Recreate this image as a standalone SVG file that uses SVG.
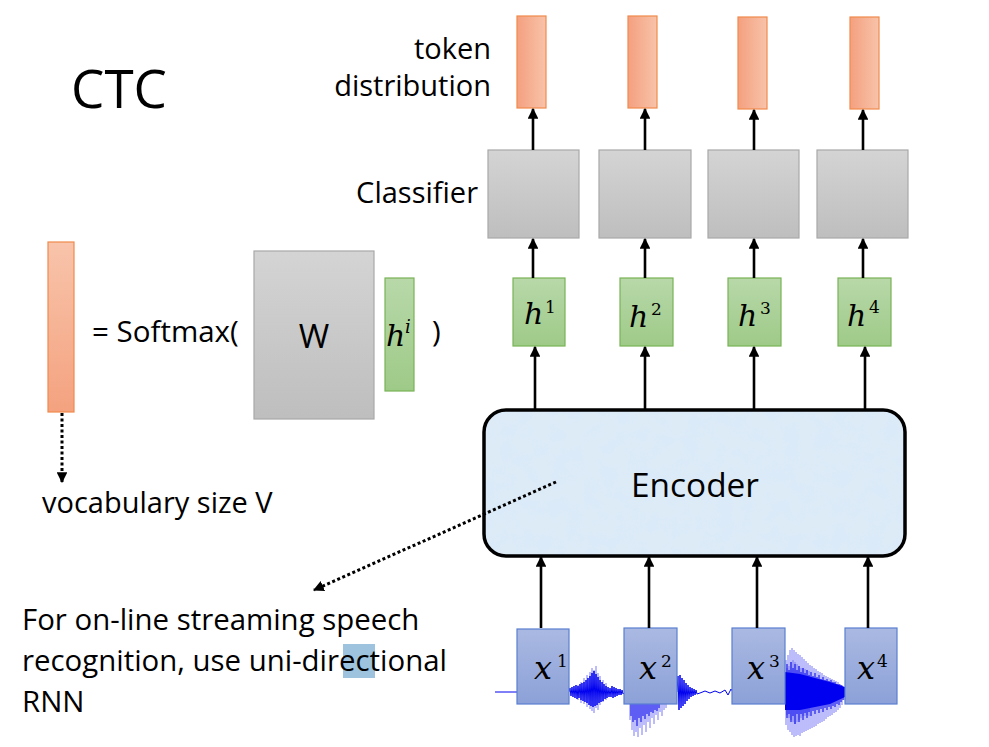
<svg xmlns="http://www.w3.org/2000/svg" width="989" height="747" viewBox="0 0 989 747">
<style>
.t{font-family:"Open Sans","Liberation Sans",sans-serif;fill:#000}
.m{font-family:"DejaVu Serif","Liberation Serif",serif;font-style:italic;fill:#000}
.d{font-family:"DejaVu Serif","Liberation Serif",serif;fill:#000}
.or{stroke:#F08A4B;stroke-width:1.2}
.gr{fill:url(#gray);stroke:#A8A8A8;stroke-width:1.2}
.gn{fill:url(#green);stroke:#78B356;stroke-width:1.2}
.bl{fill:url(#blue);stroke:#5A7FD1;stroke-width:1.2}
.ar{stroke:#000;stroke-width:2.6;fill:none;marker-end:url(#ah)}
.dt{stroke:#000;stroke-width:3;stroke-dasharray:3 2.5;fill:none;marker-end:url(#ahs)}
.wl{stroke:#7B7BF6;stroke-width:1;fill:none}
.wd{stroke:#0000F0;stroke-width:1;fill:none}
</style>
<defs>
<linearGradient id="orH" x1="0" y1="0" x2="1" y2="0"><stop offset="0" stop-color="#F4A07F"/><stop offset="1" stop-color="#F8C3AA"/></linearGradient>
<linearGradient id="orV" x1="0" y1="0" x2="0" y2="1"><stop offset="0" stop-color="#F8C4AB"/><stop offset="1" stop-color="#F4A27F"/></linearGradient>
<linearGradient id="gray" x1="0" y1="0" x2="0" y2="1"><stop offset="0" stop-color="#D4D4D4"/><stop offset="1" stop-color="#BEBEBE"/></linearGradient>
<linearGradient id="green" x1="0" y1="0" x2="0" y2="1"><stop offset="0" stop-color="#B8D8A9"/><stop offset="1" stop-color="#9ECA88"/></linearGradient>
<linearGradient id="blue" x1="0" y1="0" x2="0" y2="1"><stop offset="0" stop-color="#AAB9E2"/><stop offset="1" stop-color="#8CA1D8"/></linearGradient>
<marker id="ah" viewBox="0 0 10 10" refX="9" refY="5" markerWidth="4.2" markerHeight="4.2" orient="auto" markerUnits="strokeWidth"><path d="M0,0 L10,5 L0,10 Z" fill="#000"/></marker>
<marker id="ahs" viewBox="0 0 10 10" refX="9" refY="5" markerWidth="3.6" markerHeight="3.6" orient="auto" markerUnits="strokeWidth"><path d="M0,0 L10,5 L0,10 Z" fill="#000"/></marker>
<filter id="tex" x="0" y="0" width="100%" height="100%">
<feTurbulence type="fractalNoise" baseFrequency="0.06" numOctaves="4" seed="4" result="n"/>
<feColorMatrix in="n" type="matrix" values="0 0 0 0 0.70  0 0 0 0 0.82  0 0 0 0 0.95  0 0 0 1.6 -0.55"/>
<feComposite in2="SourceGraphic" operator="in"/>
</filter>
</defs>

<rect width="989" height="747" fill="#fff"/>

<g id="title"><text class="t" x="71" y="108" font-size="53">CTC</text></g>

<g id="labels">
<text class="t" x="491" y="59" font-size="29" text-anchor="end">token</text>
<text class="t" x="491" y="96" font-size="29" text-anchor="end">distribution</text>
<text class="t" x="478" y="203" font-size="29" text-anchor="end">Classifier</text>
</g>

<g id="formula">
<rect id="vocab-bar" x="48" y="242" width="26" height="170" fill="url(#orV)" class="or"/>
<text class="t" x="92" y="342" font-size="29.5">= Softmax(</text>
<g id="W-box"><rect x="254" y="251" width="120" height="168" class="gr"/>
<text class="t" x="314" y="348" font-size="33" text-anchor="middle">W</text></g>
<g id="hi-box"><rect x="385" y="278" width="29" height="113" class="gn"/>
<text class="m" x="386" y="346" font-size="30">h</text><text class="m" x="405" y="333" font-size="18">i</text></g>
<text class="t" x="432" y="342" font-size="29.5">)</text>
<text class="t" x="42" y="513" font-size="29">vocabulary size V</text>
</g>

<g id="note">
<rect x="343" y="644" width="32" height="34" fill="#9DC3DF"/>
<text class="t" x="22" y="630" font-size="29.4">For on-line streaming speech</text>
<text class="t" x="22" y="671" font-size="29.4">recognition, use uni-directional</text>
<text class="t" x="22" y="712" font-size="29.4">RNN</text>
</g>

<g id="tokens">
<rect id="tok1" x="517" y="16" width="29" height="92" fill="url(#orH)" class="or"/>
<rect id="tok2" x="628" y="16" width="29" height="92" fill="url(#orH)" class="or"/>
<rect id="tok3" x="738" y="17" width="29" height="92" fill="url(#orH)" class="or"/>
<rect id="tok4" x="850" y="17" width="29" height="92" fill="url(#orH)" class="or"/>
</g>

<g id="classifiers">
<rect id="cls1" x="488" y="150" width="91" height="88" class="gr"/>
<rect id="cls2" x="599" y="150" width="92" height="88" class="gr"/>
<rect id="cls3" x="708" y="150" width="91" height="88" class="gr"/>
<rect id="cls4" x="817" y="150" width="91" height="88" class="gr"/>
</g>

<g id="hidden">
<g id="h1"><rect x="513" y="278" width="52" height="68" class="gn"/><text class="m" x="524" y="324" font-size="30">h</text><text class="d" x="545" y="313" font-size="17">1</text></g>
<g id="h2"><rect x="620" y="278" width="53" height="68" class="gn"/><text class="m" x="629" y="327" font-size="30">h</text><text class="d" x="651" y="315" font-size="17">2</text></g>
<g id="h3"><rect x="728" y="278" width="53" height="68" class="gn"/><text class="m" x="738" y="326" font-size="30">h</text><text class="d" x="760" y="314" font-size="17">3</text></g>
<g id="h4"><rect x="838" y="278" width="53" height="68" class="gn"/><text class="m" x="847" y="326" font-size="30">h</text><text class="d" x="869" y="313" font-size="17">4</text></g>
</g>

<g id="encoder">
<rect x="484" y="410" width="421" height="146" rx="22" fill="#DDEBF7"/>
<rect x="484" y="410" width="421" height="146" rx="22" fill="#fff" filter="url(#tex)"/>
<rect x="484" y="410" width="421" height="146" rx="22" fill="none" stroke="#000" stroke-width="3.5"/>
<text class="t" x="695" y="497" font-size="33.4" text-anchor="middle">Encoder</text>
</g>

<g id="waveform">
<path class="wd" d="M495,692 H518"/>
<path class="wl" d="M578,685 V700 M581,682 V703 M584,678 V704 M587,675 V707 M590,672 V709 M592,668 V711 M594,670 V713 M596,666 V708 M598,673 V710 M600,676 V705 M603,680 V702 M606,683 V700"/>
<path class="wd" d="M569,692 L570,688 L571,696 L572,687 L573,697 L574,686 L575,698 L576,685 L577,699 L578,686 L579,698 L580,684 L581,700 L582,683 L583,701 L584,682 L585,702 L586,680 L587,703 L588,678 L589,705 L590,676 L591,706 L592,673 L593,707 L594,671 L595,706 L596,674 L597,705 L598,677 L599,703 L600,680 L601,702 L602,682 L603,701 L604,684 L605,699 L606,686 L607,698 L608,687 L609,697 L610,688 L611,697 L612,686 L613,698 L614,687 L615,697 L616,688 L617,696 L618,689 L619,695 L620,689 L621,695 L622,690 L623,694 L625,692"/>
<path class="wl" d="M630,704 V720 M632,704 V730 M634,704 V736 M636,704 V732 M638,704 V737 M640,704 V728 M642,704 V735 M644,704 V725 M646,704 V732 M648,704 V722 M650,704 V728 M652,704 V718 M654,704 V724 M656,704 V715 M658,704 V720 M660,704 V712 M662,704 V716 M664,704 V710 M666,704 V708"/>
<path class="wd" d="M631,704 V716 M633,704 V722 M635,704 V720 M637,704 V726 M639,704 V718 M641,704 V722 M643,704 V716 M645,704 V719 M647,704 V714 M649,704 V716 M651,704 V712 M653,704 V713 M655,704 V710 M657,704 V711 M659,704 V708"/>
<path class="wd" d="M677,692 L678,676 L679,710 L680,675 L681,708 L682,678 L683,706 L684,680 L685,704 L686,683 L687,701 L688,685 L689,699 L690,687 L691,697 L692,688 L693,696 L694,689 L695,695 L696,690 L697,694 L700,693 L705,691 L710,693 L715,691 L720,693 L725,690 L728,695 L731,689 L733,692"/>
<path class="wl" d="M786,660 V725 M787,668 V715 M788,655 V730 M789,666 V718 M790,650 V732 M791,662 V720 M792,648 V735 M793,660 V722 M794,650 V737 M795,662 V724 M796,652 V736 M797,664 V722 M798,654 V735 M799,666 V720 M800,655 V736 M801,668 V718 M802,657 V733 M803,668 V716 M804,659 V732 M805,669 V716 M806,661 V731 M807,670 V715 M808,663 V730 M809,671 V716 M810,665 V729 M812,666 V728 M814,668 V727 M816,669 V726 M818,671 V724 M820,672 V723 M822,673 V722 M824,675 V721 M826,676 V719 M828,677 V717 M830,678 V716 M832,679 V715 M834,680 V713 M836,681 V712 M838,682 V710 M840,684 V708 M842,685 V705 M844,687 V700"/>
<path d="M785,672 L800,674 L815,678 L830,682 L845,687 L845,697 L830,704 L815,707 L800,710 L785,710 Z" fill="#0000F0"/>
<path class="wd" d="M787,664 V718 M789,670 V714 M791,662 V722 M793,668 V716 M795,664 V724 M797,670 V714 M799,666 V722 M801,672 V714 M803,668 V720 M805,673 V713 M807,670 V718 M809,675 V712 M811,672 V716 M813,676 V711 M815,673 V714 M817,677 V710 M819,675 V713 M821,679 V709 M823,677 V712 M825,680 V708 M827,679 V710 M829,681 V707 M831,680 V709 M833,682 V706 M835,682 V707 M837,684 V704 M839,684 V705 M841,685 V702 M843,687 V700"/>
</g>

<g id="inputs">
<g id="x1"><rect x="517" y="629" width="52" height="75" class="bl"/><text class="m" x="534" y="679" font-size="32">x</text><text class="d" x="557" y="667" font-size="17">1</text></g>
<g id="x2"><rect x="624" y="628" width="53" height="76" class="bl"/><text class="m" x="639" y="679" font-size="32">x</text><text class="d" x="661" y="667" font-size="17">2</text></g>
<g id="x3"><rect x="732" y="628" width="53" height="76" class="bl"/><text class="m" x="747" y="679" font-size="32">x</text><text class="d" x="769" y="667" font-size="17">3</text></g>
<g id="x4"><rect x="845" y="628" width="52" height="76" class="bl"/><text class="m" x="857" y="679" font-size="32">x</text><text class="d" x="877" y="667" font-size="17">4</text></g>
</g>

<g id="connectors">
<path class="ar" d="M533,150 V109"/>
<path class="ar" d="M645,150 V109"/>
<path class="ar" d="M754,150 V110"/>
<path class="ar" d="M863,150 V110"/>
<path class="ar" d="M533,278 V239"/>
<path class="ar" d="M645,278 V239"/>
<path class="ar" d="M754,278 V239"/>
<path class="ar" d="M863,278 V239"/>
<path class="ar" d="M535,410 V347"/>
<path class="ar" d="M645,410 V347"/>
<path class="ar" d="M754,410 V347"/>
<path class="ar" d="M865,410 V347"/>
<path class="ar" d="M541,628 V557"/>
<path class="ar" d="M649,628 V557"/>
<path class="ar" d="M757,628 V557"/>
<path class="ar" d="M868,628 V557"/>
<path class="dt" d="M62,413 V482"/>
<path class="dt" d="M556,482 L314,590"/>
</g>
</svg>
